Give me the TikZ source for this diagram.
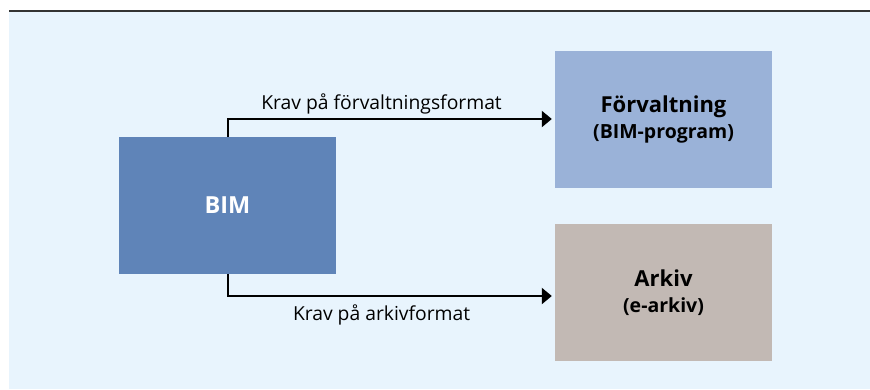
\documentclass[tikz,border=0pt]{standalone}
\usepackage{fontspec}
\setmainfont{Open Sans}
\usetikzlibrary{arrows.meta}

\definecolor{bgblue}{HTML}{E8F4FD}
\definecolor{bimblue}{HTML}{5F84B8}
\definecolor{forvblue}{HTML}{9AB2D8}
\definecolor{arkgray}{HTML}{C2B9B4}
\definecolor{rulegray}{HTML}{333333}

\tikzset{
  box/.style={minimum width=217pt,minimum height=137pt,inner sep=0pt,align=center,
    font=\fontsize{22}{26}\selectfont\bfseries},
  flow/.style={draw=black,line width=2.2pt,-{Triangle[length=10pt,width=16pt]},shorten >=3pt},
  flowlabel/.style={font=\fontsize{19.3}{22}\selectfont,anchor=base}
}

\begin{document}
\begin{tikzpicture}[x=1pt,y=-1pt]
  \useasboundingbox (0,0) rectangle (870,389);
  \fill[bgblue] (9,12) rectangle (870,389);
  \draw[rulegray,line width=2pt] (9,11) -- (870,11);
  % boxes
  \node[box,fill=bimblue,text=white] (bim) at (227.5,205.5)
    {\fontsize{23.5}{26}\selectfont BIM};
  \node[box,fill=forvblue] (forv) at (663.5,119)
    {F\"orvaltning\\
     \fontsize{19.5}{26}\selectfont (BIM-program)};
  \node[box,fill=arkgray] (ark) at (663.5,292.5)
    {Arkiv\\
     \fontsize{19.5}{26}\selectfont (e-arkiv)};
  % connectors
  \draw[flow] ([xshift=0.5pt]bim.north) |- (forv.west)
    node[flowlabel,pos=0.735,yshift=10pt]{Krav på förvaltningsformat};
  \draw[flow] ([xshift=0.5pt]bim.south) |- ([yshift=-3.5pt]ark.west)
    node[flowlabel,pos=0.735,yshift=-24pt]{Krav på arkivformat};
\end{tikzpicture}
\end{document}
